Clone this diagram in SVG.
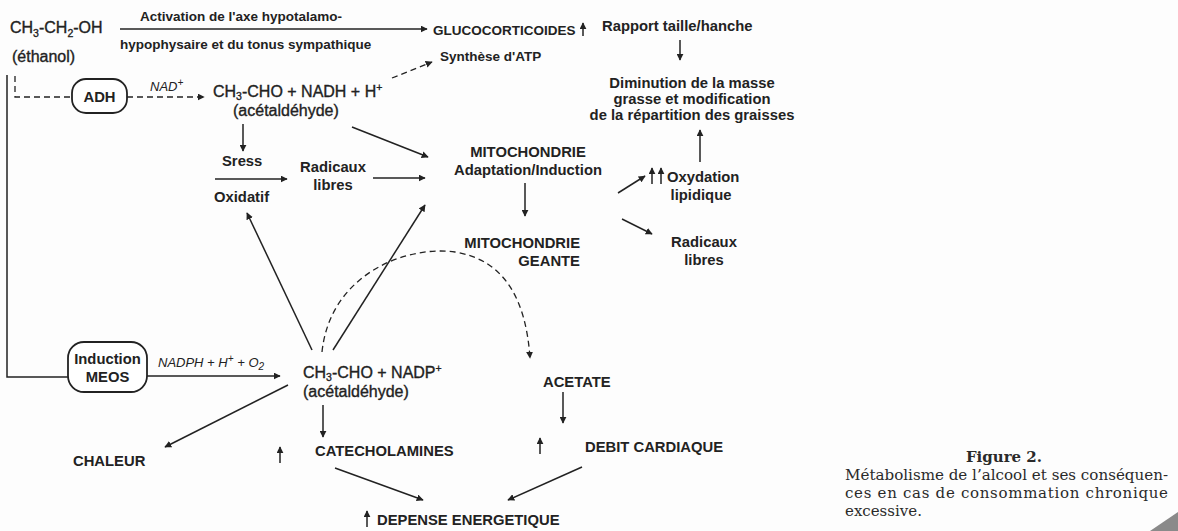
<svg xmlns="http://www.w3.org/2000/svg" width="1178" height="531" viewBox="0 0 1178 531">
<defs>
<marker id="ah" viewBox="0 0 10 10" refX="9" refY="5" markerWidth="7" markerHeight="7" markerUnits="userSpaceOnUse" orient="auto"><path d="M0,0 L10,5 L0,10 z" fill="#222"/></marker>
<style>
.t{font-family:"Liberation Sans",Arial,sans-serif;font-weight:bold;font-size:14.8px;fill:#222}
.s{font-size:13.5px}
.f{font-family:"Liberation Sans",Arial,sans-serif;font-size:16px;fill:#222;stroke:#222;stroke-width:0.35}
.i{font-family:"Liberation Sans",Arial,sans-serif;font-style:italic;font-size:13px;fill:#222}
.c{font-family:"DejaVu Serif","Liberation Serif",serif;font-size:15px;fill:#2a2a2a}
.l{stroke:#222;stroke-width:1.5;fill:none}
.d{stroke:#222;stroke-width:1.3;fill:none;stroke-dasharray:6 4}
.b{stroke:#222;stroke-width:1.8;fill:#fff}
</style>
</defs>
<rect width="1178" height="531" fill="#fdfdfd"/>

<g id="connectors">
<path class="l" d="M7,75 V377 H68"/>
<path class="d" d="M15,76 V97 H72"/>
<path class="d" d="M127,97 H204" marker-end="url(#ah)"/>
<path class="l" d="M120,29 H427" marker-end="url(#ah)"/>
<path class="d" d="M392,78 L432,62" marker-end="url(#ah)"/>
<path class="l" d="M243,124 V151" marker-end="url(#ah)"/>
<path class="l" d="M215,179 H287" marker-end="url(#ah)"/>
<path class="l" d="M373,178 H425" marker-end="url(#ah)"/>
<path class="l" d="M352,127 L428,157" marker-end="url(#ah)"/>
<path class="l" d="M333,350 L425,205" marker-end="url(#ah)"/>
<path class="l" d="M312,350 L247,213" marker-end="url(#ah)"/>
<path class="d" d="M322,352 C330,275 405,245 455,252 C505,260 526,300 530,358" marker-end="url(#ah)"/>
<path class="l" d="M525,183 V216" marker-end="url(#ah)"/>
<path class="l" d="M618,193 L645,176" marker-end="url(#ah)"/>
<path class="l" d="M622,219 L652,234" marker-end="url(#ah)"/>
<path class="l" d="M680,40 V60" marker-end="url(#ah)"/>
<path class="l" d="M700,162 V130" marker-end="url(#ah)"/>
<path class="l" d="M147,376 H280" marker-end="url(#ah)"/>
<path class="l" d="M288,385 L165,447" marker-end="url(#ah)"/>
<path class="l" d="M323,405 V437" marker-end="url(#ah)"/>
<path class="l" d="M335,468 L423,500" marker-end="url(#ah)"/>
<path class="l" d="M582,467 L508,500" marker-end="url(#ah)"/>
<path class="l" d="M563,392 V423" marker-end="url(#ah)"/>
<path class="l" d="M583,36 V23" marker-end="url(#ah)"/>
<path class="l" d="M280,463 V447" marker-end="url(#ah)"/>
<path class="l" d="M540,454 V438" marker-end="url(#ah)"/>
<path class="l" d="M367,527 V511" marker-end="url(#ah)"/>
<path class="l" d="M652,184 V168" marker-end="url(#ah)"/>
<path class="l" d="M661,184 V168" marker-end="url(#ah)"/>
</g>

<g id="ethanol"><text class="f" x="10" y="33" font-size="15.5">CH<tspan font-size="10.5" dy="4">3</tspan><tspan dy="-4">-CH</tspan><tspan font-size="10.5" dy="4">2</tspan><tspan dy="-4">-OH</tspan></text><text class="f" x="12" y="62" font-size="15.5">(éthanol)</text></g>
<g id="activation"><text class="t s" x="140" y="21">Activation de l'axe hypotalamo-</text><text class="t s" x="120" y="49">hypophysaire et du tonus sympathique</text></g>
<g id="glucocorticoides"><text class="t s" x="433" y="35">GLUCOCORTICOIDES</text></g>
<g id="rapport"><text class="t" x="602" y="31">Rapport taille/hanche</text></g>
<g id="diminution"><text class="t" x="692" y="88" text-anchor="middle">Diminution de la masse</text><text class="t" x="692" y="104" text-anchor="middle">grasse et modification</text><text class="t" x="692" y="120" text-anchor="middle">de la répartition des graisses</text></g>
<g id="adh"><rect class="b" x="72" y="79" width="55" height="34" rx="14"/><text class="t" x="99.5" y="102" text-anchor="middle" font-size="15.5">ADH</text></g>
<g id="nad"><text class="i" x="150" y="91">NAD<tspan font-size="10" dy="-5">+</tspan></text></g>
<g id="acetaldehyde1"><text class="f" x="213" y="97">CH<tspan font-size="10.5" dy="3">3</tspan><tspan dy="-3">-CHO + NADH + H</tspan><tspan font-size="10.5" dy="-6">+</tspan></text><text class="f" x="233" y="116">(acétaldéhyde)</text></g>
<g id="atp"><text class="t s" x="440" y="61">Synthèse d'ATP</text></g>
<g id="stress"><text class="t" x="222" y="166">Sress</text><text class="t" x="214" y="202">Oxidatif</text></g>
<g id="radicaux1"><text class="t" x="333" y="172" text-anchor="middle">Radicaux</text><text class="t" x="333" y="190" text-anchor="middle">libres</text></g>
<g id="mito1"><text class="t" x="528" y="157" text-anchor="middle">MITOCHONDRIE</text><text class="t" x="528" y="175" text-anchor="middle">Adaptation/Induction</text></g>
<g id="mito2"><text class="t" x="580" y="248" text-anchor="end">MITOCHONDRIE</text><text class="t" x="580" y="266" text-anchor="end">GEANTE</text></g>
<g id="oxydation"><text class="t" x="667" y="182">Oxydation</text><text class="t" x="701" y="200" text-anchor="middle">lipidique</text></g>
<g id="radicaux2"><text class="t" x="704" y="247" text-anchor="middle">Radicaux</text><text class="t" x="704" y="265" text-anchor="middle">libres</text></g>
<g id="meos"><rect class="b" x="68" y="342" width="79" height="50" rx="16"/><text class="t" x="107.5" y="364" text-anchor="middle" font-size="15">Induction</text><text class="t" x="107.5" y="382" text-anchor="middle" font-size="15">MEOS</text></g>
<g id="nadph"><text class="i" x="158" y="367">NADPH + H<tspan font-size="10" dy="-5">+</tspan><tspan dy="5"> + O</tspan><tspan font-size="10" dy="3">2</tspan></text></g>
<g id="acetaldehyde2"><text class="f" x="303" y="378">CH<tspan font-size="10.5" dy="3">3</tspan><tspan dy="-3">-CHO + NADP</tspan><tspan font-size="10.5" dy="-6">+</tspan></text><text class="f" x="303" y="397">(acétaldéhyde)</text></g>
<g id="acetate"><text class="t" x="543" y="387">ACETATE</text></g>
<g id="chaleur"><text class="t" x="73" y="466">CHALEUR</text></g>
<g id="catecholamines"><text class="t" x="315" y="456">CATECHOLAMINES</text></g>
<g id="debit"><text class="t" x="585" y="452">DEBIT CARDIAQUE</text></g>
<g id="depense"><text class="t" x="377" y="525">DEPENSE ENERGETIQUE</text></g>

<g id="caption">
<text class="c" x="1004" y="462" text-anchor="middle" font-weight="bold" font-size="18">Figure 2.</text>
<text class="c" x="845" y="480" textLength="323" lengthAdjust="spacingAndGlyphs">Métabolisme de l’alcool et ses conséquen-</text>
<text class="c" x="845" y="498" textLength="323" lengthAdjust="spacing">ces en cas de consommation chronique</text>
<text class="c" x="845" y="516">excessive.</text>
</g>
<path d="M1150,531 L1178,512 L1178,531 Z" fill="#8a8a8a"/>
</svg>
